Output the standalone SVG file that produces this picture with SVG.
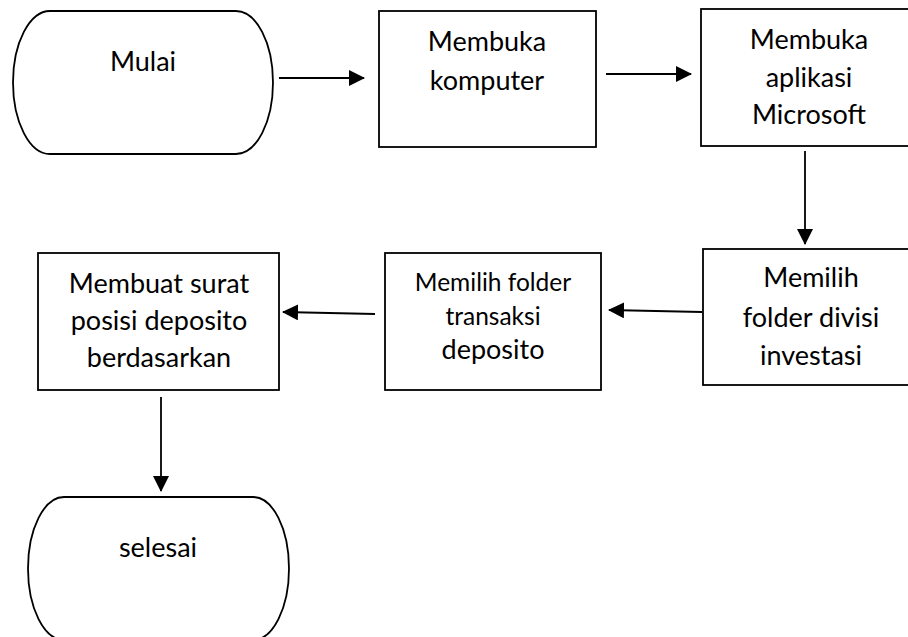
<svg xmlns="http://www.w3.org/2000/svg" width="908" height="637" viewBox="0 0 908 637">
  <defs>
    <marker id="arrow" markerUnits="userSpaceOnUse" markerWidth="16" markerHeight="16" viewBox="0 0 16 16" refX="15" refY="8" orient="auto">
      <path d="M0,0 L16,8 L0,16 Z" fill="#000"/>
    </marker>
    <style>
      .shape { fill: #fff; stroke: #000; stroke-width: 1.8; }
      .lbl { font-family: Lato, "Liberation Sans", sans-serif; font-size: 27px; fill: #000; text-anchor: middle; }
      .sm { font-size: 24.5px; }
      .conn { fill: none; stroke: #000; stroke-width: 1.8; marker-end: url(#arrow); }
    </style>
  </defs>
  <rect width="908" height="637" fill="#fff"/>

  <g id="connectors">
    <line class="conn" x1="279" y1="78" x2="364" y2="78"/>
    <line class="conn" x1="606" y1="74" x2="691" y2="74"/>
    <line class="conn" x1="805" y1="151" x2="805" y2="244"/>
    <line class="conn" x1="702" y1="312" x2="609" y2="310"/>
    <line class="conn" x1="375" y1="314" x2="283" y2="312"/>
    <line class="conn" x1="161" y1="397" x2="161" y2="491"/>
  </g>

  <g id="mulai">
    <path class="shape" d="M50,11 L236,11 A37,71.5 0 0 1 236,154 L50,154 A37,71.5 0 0 1 50,11 Z"/>
    <text class="lbl" x="143" y="71">Mulai</text>
  </g>

  <g id="membuka-komputer">
    <rect class="shape" x="379" y="11" width="217" height="136"/>
    <text class="lbl" x="487" y="51">Membuka</text>
    <text class="lbl" x="487" y="90">komputer</text>
  </g>

  <g id="membuka-aplikasi">
    <rect class="shape" x="701" y="9" width="230" height="137"/>
    <text class="lbl" x="809" y="49">Membuka</text>
    <text class="lbl" x="809" y="87">aplikasi</text>
    <text class="lbl" x="809" y="124">Microsoft</text>
  </g>

  <g id="memilih-divisi">
    <rect class="shape" x="703" y="249" width="230" height="136"/>
    <text class="lbl" x="811" y="287">Memilih</text>
    <text class="lbl" x="811" y="327">folder divisi</text>
    <text class="lbl" x="811" y="365">investasi</text>
  </g>

  <g id="memilih-transaksi">
    <rect class="shape" x="385" y="253" width="216" height="137"/>
    <text class="lbl sm" x="493" y="291">Memilih folder</text>
    <text class="lbl sm" x="493" y="325">transaksi</text>
    <text class="lbl" x="493" y="359">deposito</text>
  </g>

  <g id="membuat-surat">
    <rect class="shape" x="38" y="253" width="241" height="137"/>
    <text class="lbl" x="159" y="293">Membuat surat</text>
    <text class="lbl" x="159" y="330">posisi deposito</text>
    <text class="lbl" x="159" y="367">berdasarkan</text>
  </g>

  <g id="selesai">
    <path class="shape" d="M64,497 L253,497 A36,71.5 0 0 1 253,640 L64,640 A36,71.5 0 0 1 64,497 Z"/>
    <text class="lbl" x="158" y="557">selesai</text>
  </g>
</svg>
